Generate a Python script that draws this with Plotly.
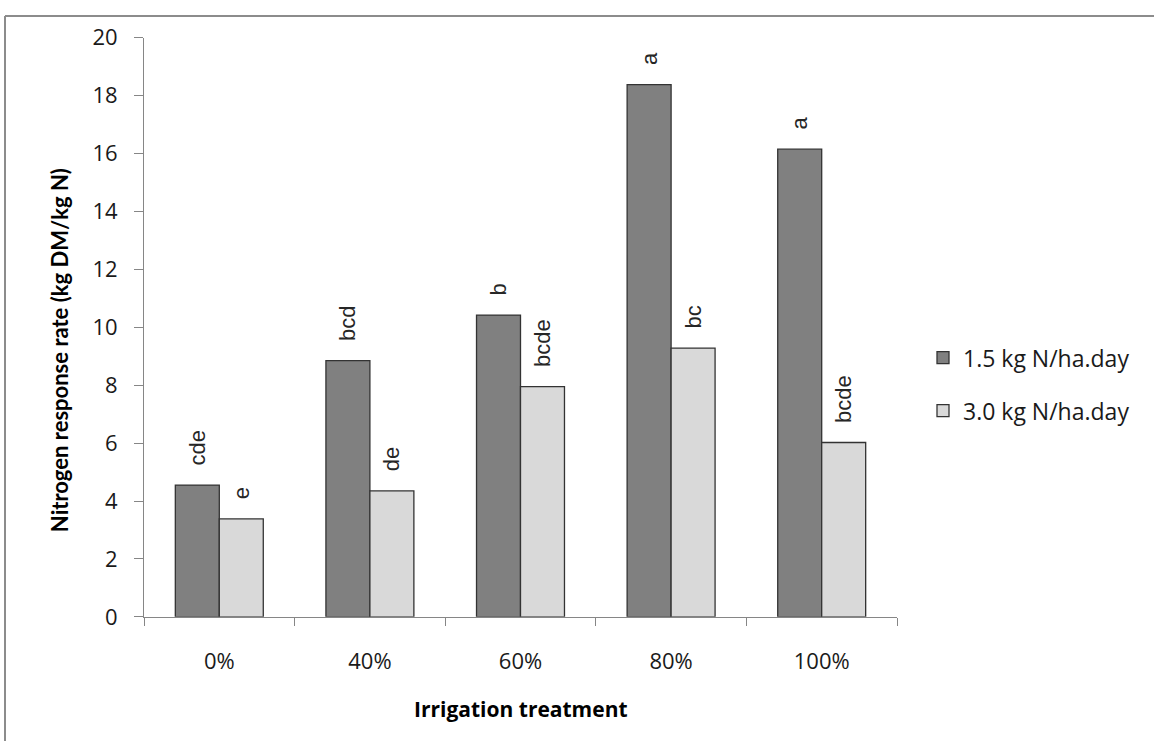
import plotly.graph_objects as go

# Irrigation treatments on the x axis
treatments = ["0%", "40%", "60%", "80%", "100%"]

# Nitrogen response rate (kg DM/kg N) for each N application rate
low_n_values = [4.55, 8.85, 10.42, 18.38, 16.15]
high_n_values = [3.38, 4.35, 7.95, 9.28, 6.02]

# Significance letters shown above the bars
low_n_letters = ["cde", "bcd", "b", "a", "a"]
high_n_letters = ["e", "de", "bcde", "bc", "bcde"]

series_names = ["1.5 kg N/ha.day", "3.0 kg N/ha.day"]

W, H = 1154, 755
V_SCALE = 0.965  # vertical scale of the page as displayed
V_MID = 377


def row(y):
    """Paper fraction for a displayed pixel row."""
    y_in = V_MID + (y - V_MID) / V_SCALE
    return min(1.0, max(0.0, 1 - y_in / H))


def col(x):
    return x / W


pad = "\u00a0\u00a0\u2009"

label_font = dict(family="Liberation Sans, Arial, sans-serif", size=22, color="#262626")
tick_family = "Open Sans, Calibri, sans-serif"
tick_font = dict(family=tick_family, size=22, color="#1a1a1a")

fig = go.Figure()
fig.add_trace(go.Bar(
    x=treatments, y=low_n_values, name=series_names[0],
    marker=dict(color="#808080", line=dict(color="#333333", width=1.3)),
    text=[pad + t for t in low_n_letters], textposition="outside",
    textangle=-90, textfont=label_font, cliponaxis=False,
    constraintext="none", legendgroup="a",
))
fig.add_trace(go.Bar(
    x=treatments, y=high_n_values, name=series_names[1],
    marker=dict(color="#d9d9d9", line=dict(color="#333333", width=1.3)),
    text=[pad + t for t in high_n_letters], textposition="outside",
    textangle=-90, textfont=label_font, cliponaxis=False,
    constraintext="none", legendgroup="b",
))

x0, x1 = 144, 897
y_top, y_bottom = 35, 617

border = dict(color="#8c8c8c", width=2)

fig.update_layout(
    width=W, height=H,
    margin=dict(l=0, r=0, t=0, b=0),
    paper_bgcolor="white", plot_bgcolor="white",
    barmode="group", bargap=0.416, bargroupgap=0,
    font=dict(family=tick_family, size=20, color="#1a1a1a"),
    showlegend=True,
    legend=dict(
        x=col(923), xanchor="left", y=row(335), yanchor="top",
        traceorder="grouped", tracegroupgap=20,
        font=dict(family=tick_family, size=23, color="#1a1a1a"),
        bgcolor="rgba(0,0,0,0)",
    ),
    xaxis=dict(
        domain=[col(x0), col(x1)],
        showline=True, linecolor="#868686", linewidth=1,
        ticks="outside", tickson="boundaries", ticklen=8,
        tickcolor="#868686", ticklabelstandoff=25,
        tickfont=tick_font,
        showgrid=False, zeroline=False,
    ),
    yaxis=dict(
        domain=[row(y_bottom), row(y_top)],
        range=[0, 20], dtick=2,
        showline=True, linecolor="#868686", linewidth=1,
        ticks="outside", ticklen=9, tickcolor="#868686",
        ticklabelstandoff=12,
        tickfont=tick_font,
        showgrid=False, zeroline=False,
    ),
    annotations=[
        dict(text="<b>Irrigation treatment</b>", xref="paper", yref="paper",
             x=col((x0 + x1) / 2), y=row(710), xanchor="center",
             yanchor="middle", showarrow=False,
             font=dict(family=tick_family, size=21, color="#000000")),
        dict(text="<b>Nitrogen response rate (kg DM/kg N)</b>", xref="paper",
             yref="paper", x=col(59), y=row(349), textangle=-90,
             xanchor="center", yanchor="middle", showarrow=False,
             font=dict(family="Lato, Calibri, sans-serif", size=22, color="#000000")),
    ],
    shapes=[
        # frame: top and left edges
        dict(type="line", xref="paper", yref="paper",
             x0=col(5), x1=1, y0=row(6), y1=row(6), line=border, layer="below"),
        dict(type="line", xref="paper", yref="paper",
             x0=col(5), x1=col(5), y0=0, y1=row(6), line=border, layer="below"),
    ],
)

fig.write_html("out.html")
